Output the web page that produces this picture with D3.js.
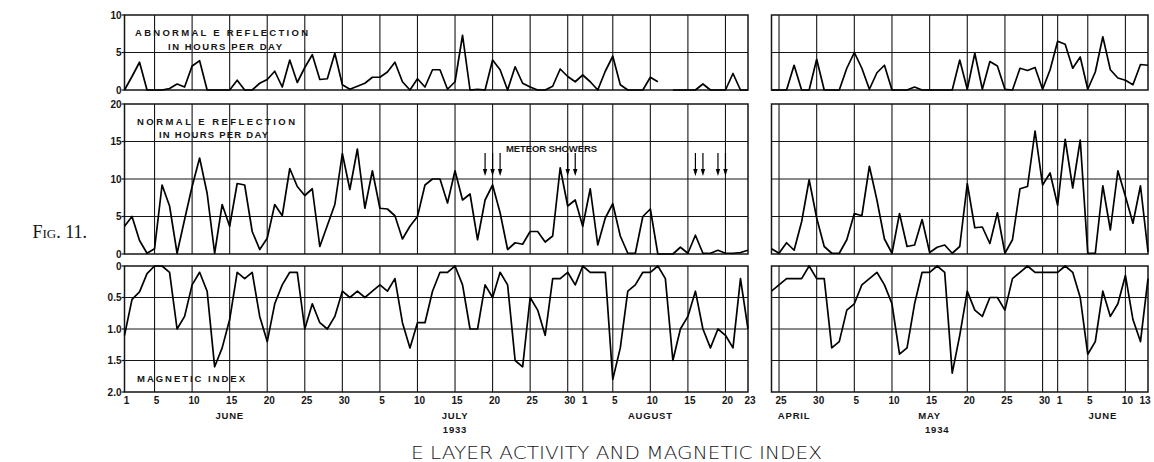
<!DOCTYPE html>
<html><head><meta charset="utf-8">
<script src="https://cdn.jsdelivr.net/npm/d3@7"></script>
<style>body{margin:0;background:#fff}svg{display:block}</style>
</head><body>
<svg id="c" width="1154" height="462"></svg>
<script>
// ---------- DATA ----------
const start1933 = "1933-06-01", end1933 = "1933-08-23";
const start1934 = "1934-04-24", end1934 = "1934-06-13";

const abnormal1933 = [0,1.8,3.7,0,0,0,0.2,0.8,0.4,3.2,3.9,0,0,0,0,1.3,0,0,0.9,1.4,2.5,0.4,4.0,1.0,3.0,4.7,1.4,1.5,4.9,0.7,0.1,0.5,0.9,1.7,1.7,2.4,3.7,1.1,0,1.5,0.4,2.7,2.7,0.1,1.1,7.3,0,0.1,0,4.0,2.7,0,3.1,0.9,0.4,0,0,0.5,2.8,1.8,1.1,2.0,1.1,0,2.5,4.5,0.7,0,0,0,1.7,1.1,null,0,0,0,0,0.8,0,0,0,2.2,0,0];
const normal1933 = [3.7,5.0,1.8,0.1,0.7,9.2,6.4,0.1,4.6,9.0,12.8,8.1,0.1,6.6,3.7,9.4,9.2,3.0,0.6,2.1,6.6,5.1,11.4,9.0,7.8,8.7,1.0,3.8,6.6,13.4,8.6,14.0,6.1,11.1,6.1,6.0,5.1,2.0,3.7,5.0,9.2,10.0,10.0,6.8,11.1,7.2,8.0,1.9,7.2,9.2,5.5,0.6,1.5,1.3,3.0,3.0,1.6,2.4,11.5,6.4,7.2,3.7,8.7,1.2,4.8,6.7,2.4,0.1,0.1,5.0,6.0,0,0,0,0.9,0.1,2.5,0.1,0.1,0.5,0.1,0.1,0.2,0.5];
const magnetic1933 = [1.1,0.53,0.41,0.12,0,0,0.1,1.0,0.8,0.3,0.1,0.4,1.6,1.3,0.85,0.1,0.2,0.1,0.8,1.2,0.6,0.3,0.1,0.1,1.0,0.6,0.9,1.0,0.8,0.4,0.5,0.4,0.5,0.4,0.3,0.4,0.2,0.9,1.3,0.9,0.9,0.4,0.1,0.1,0,0.3,1.0,1.0,0.3,0.5,0.1,0.3,1.5,1.6,0.5,0.7,1.1,0.2,0.2,0.1,0.3,0,0.1,0.1,0.1,1.8,1.3,0.4,0.3,0.1,0.1,0,0.2,1.5,1.0,0.8,0.4,1.0,1.3,1.0,1.1,1.3,0.2,1.0];

const abnormal1934 = [0,0,0,3.3,0,0,4.1,0,0,0,2.9,5.0,2.9,0.1,2.3,3.3,0,0,0,0.4,0,0,0,0,0,4.0,0.1,4.9,0.1,3.8,3.2,0.1,0,2.9,2.6,3.0,0.1,2.7,6.5,6.1,2.9,4.4,0.1,2.4,7.1,2.7,1.6,1.3,0.7,3.4,3.3];
const normal1934 = [0.7,0.1,1.5,0.5,4.3,9.9,4.8,1.0,0.1,0.1,1.9,5.4,5.1,11.7,7.2,2.0,0.1,5.4,1.0,1.2,4.6,0.2,0.9,1.2,0.1,1.0,9.4,3.5,3.6,1.4,5.5,0.1,1.9,8.7,9.0,16.4,9.2,10.8,6.5,15.3,8.8,15.2,0.1,0.1,9.1,3.2,11.1,7.7,4.1,9.1,0.3];
const magnetic1934 = [0.4,0.3,0.2,0.2,0.2,0,0.2,0.2,1.3,1.2,0.7,0.6,0.3,0.2,0.1,0.3,0.6,1.4,1.3,0.6,0.1,0.1,0,0.1,1.7,1.1,0.4,0.7,0.8,0.5,0.5,0.7,0.2,0.1,0,0.1,0.1,0.1,0.1,0,0.1,0.5,1.4,1.2,0.4,0.8,0.6,0.15,0.85,1.2,0.2];

const grid1933 = ["1933-06-05","1933-06-10","1933-06-15","1933-06-20","1933-06-25","1933-06-30","1933-07-05","1933-07-10","1933-07-15","1933-07-20","1933-07-25","1933-07-30","1933-08-01","1933-08-05","1933-08-10","1933-08-15","1933-08-20"];
const grid1934 = ["1934-04-25","1934-04-30","1934-05-05","1934-05-10","1934-05-15","1934-05-20","1934-05-25","1934-05-30","1934-06-01","1934-06-05","1934-06-10"];
const dayTicks1933 = ["1933-06-01","1933-06-05","1933-06-10","1933-06-15","1933-06-20","1933-06-25","1933-06-30","1933-07-05","1933-07-10","1933-07-15","1933-07-20","1933-07-25","1933-07-30","1933-08-01","1933-08-05","1933-08-10","1933-08-15","1933-08-20","1933-08-23"];
const dayTicks1934 = ["1934-04-25","1934-04-30","1934-05-05","1934-05-10","1934-05-15","1934-05-20","1934-05-25","1934-05-30","1934-06-01","1934-06-05","1934-06-10","1934-06-13"];
const months1933 = [["JUNE","1933-06-15"],["JULY","1933-07-15"],["AUGUST","1933-08-10"]];
const months1934 = [["APRIL","1934-04-27"],["MAY","1934-05-15"],["JUNE","1934-06-07"]];
const yearLabels = [["1933","1933-07-15"],["1934","1934-05-16"]];
const meteorDates = ["1933-07-19","1933-07-20","1933-07-21","1933-07-30","1933-07-31","1933-08-16","1933-08-17","1933-08-19","1933-08-20"];

const abnTicks = [0,5,10], normTicks = [0,5,10,15,20], magTicks = [0,0.5,1,1.5,2];
const magTickLabels = ["0","0.5","1.0","1.5","2.0"];

// ---------- CHART ----------
const P = d3.utcParse("%Y-%m-%d");
const svg = d3.select("#c");
const INK = "#151515";

const x33 = d3.scaleUtc().domain([P(start1933), P(end1933)]).range([124.5, 748]);
const x34 = d3.scaleUtc().domain([P(start1934), P(end1934)]).range([771.5, 1148]);

const yAbn = d3.scaleLinear().domain([0,10]).range([90,15]);
const yNorm = d3.scaleLinear().domain([0,20]).range([254,104]);
const yMag = d3.scaleLinear().domain([0,2]).range([266,392]);

const panels = [
  {y:yAbn, grid:[5], ticks:abnTicks, labels:abnTicks.map(String), s33:abnormal1933, s34:abnormal1934},
  {y:yNorm, grid:[5,10,15], ticks:normTicks, labels:normTicks.map(String), s33:normal1933, s34:normal1934},
  {y:yMag, grid:[0.5,1,1.5], ticks:magTicks, labels:magTickLabels, s33:magnetic1933, s34:magnetic1934}
];

const years = [
  {x:x33, start:start1933, end:end1933, grid:grid1933, key:"s33"},
  {x:x34, start:start1934, end:end1934, grid:grid1934, key:"s34"}
];

const g = svg.append("g");
panels.forEach(p => {
  const [y0, y1] = p.y.range();
  const top = Math.min(y0,y1), bot = Math.max(y0,y1);
  years.forEach(yr => {
    const [xa, xb] = yr.x.range();
    g.selectAll(null).data(yr.grid).enter().append("line")
      .attr("x1", d=>yr.x(P(d))).attr("x2", d=>yr.x(P(d)))
      .attr("y1", top).attr("y2", bot)
      .attr("stroke", INK).attr("stroke-width", 1.1);
    g.selectAll(null).data(p.grid).enter().append("line")
      .attr("x1", xa).attr("x2", xb)
      .attr("y1", d=>p.y(d)).attr("y2", d=>p.y(d))
      .attr("stroke", INK).attr("stroke-width", 1.1);
    g.append("rect").attr("x", xa).attr("y", top).attr("width", xb-xa).attr("height", bot-top)
      .attr("fill","none").attr("stroke", INK).attr("stroke-width", 1.5);
    const dates = d3.utcDay.range(P(yr.start), d3.utcDay.offset(P(yr.end),1));
    const pts = p[yr.key].map((v,i)=>({date:dates[i], v}));
    const line = d3.line().defined(d=>d.v!=null).x(d=>yr.x(d.date)).y(d=>p.y(d.v));
    g.append("path").attr("d", line(pts)).attr("fill","none")
      .attr("stroke","#000").attr("stroke-width",1.7).attr("stroke-linejoin","round");
  });
  const xa = x33.range()[0];
  g.selectAll(null).data(p.ticks).enter().append("line")
    .attr("x1", xa-3).attr("x2", xa).attr("y1", d=>p.y(d)).attr("y2", d=>p.y(d))
    .attr("stroke", INK).attr("stroke-width", 1.2);
  g.selectAll(null).data(p.ticks).enter().append("text")
    .attr("x", xa-3).attr("y", d=>p.y(d)).attr("dy","0.36em")
    .attr("text-anchor","end").attr("font-family","Liberation Sans, Arial, sans-serif")
    .attr("font-weight","bold").attr("font-size",10).attr("fill",INK)
    .text((d,i)=>p.labels[i]);
});

const tickFont = "Liberation Sans, Arial, sans-serif";
[[x33, dayTicks1933],[x34, dayTicks1934]].forEach(([x, ticks]) => {
  g.selectAll(null).data(ticks).enter().append("text")
    .attr("x", d=>Math.min(x(P(d))+2, 1145)).attr("y", 404)
    .attr("text-anchor","middle").attr("font-family",tickFont).attr("font-weight","bold")
    .attr("font-size",10).attr("fill",INK)
    .text(d=>String(+d.slice(8)));
});
[[x33, months1933],[x34, months1934]].forEach(([x, ms]) => {
  g.selectAll(null).data(ms).enter().append("text")
    .attr("x", d=>x(P(d[1]))).attr("y", 419)
    .attr("text-anchor","middle").attr("font-family",tickFont).attr("font-weight","bold")
    .attr("font-size",9.5).attr("letter-spacing",0.8).attr("fill",INK)
    .text(d=>d[0]);
});
g.selectAll(null).data(yearLabels).enter().append("text")
  .attr("x", (d,i)=>(i===0?x33:x34)(P(d[1]))).attr("y", 433)
  .attr("text-anchor","middle").attr("font-family",tickFont).attr("font-weight","bold")
  .attr("font-size",9.5).attr("letter-spacing",0.8).attr("fill",INK)
  .text(d=>d[0]);

function caption(txt, x, y, w){
  g.append("text").attr("x", x).attr("y", y).attr("dy","0.36em")
    .attr("font-family",tickFont).attr("font-weight","bold").attr("font-size",9.5)
    .attr("textLength", w).attr("lengthAdjust","spacing").attr("fill",INK)
    .text(txt);
}
caption("ABNORMAL  E  REFLECTION", 135, 33, 173);
caption("IN HOURS PER DAY", 168, 47, 114);
caption("NORMAL  E  REFLECTION", 137, 122, 158);
caption("IN HOURS PER DAY", 159, 135, 109);
caption("MAGNETIC  INDEX", 137, 379, 108);
caption("METEOR SHOWERS", 506, 149, 91);

meteorDates.forEach(d => {
  const xx = x33(P(d));
  g.append("line").attr("x1",xx).attr("x2",xx).attr("y1",153).attr("y2",171)
    .attr("stroke","#000").attr("stroke-width",1.2);
  g.append("path").attr("d",`M${xx-2.2},${169}L${xx+2.2},${169}L${xx},${176}Z`).attr("fill","#000");
});

g.append("text").attr("x", 87).attr("y", 238)
  .attr("text-anchor","end").attr("font-family","Liberation Serif, Times New Roman, serif")
  .attr("font-size",18).attr("font-variant","small-caps").attr("fill",INK)
  .text("Fig. 11.");
g.append("text").attr("x", 411).attr("y", 459)
  .attr("font-family","DejaVu Sans, sans-serif").attr("font-weight",300)
  .attr("font-size",17).attr("textLength",411).attr("lengthAdjust","spacingAndGlyphs")
  .attr("fill",INK)
  .text("E LAYER ACTIVITY AND MAGNETIC INDEX");
</script>
</body></html>
